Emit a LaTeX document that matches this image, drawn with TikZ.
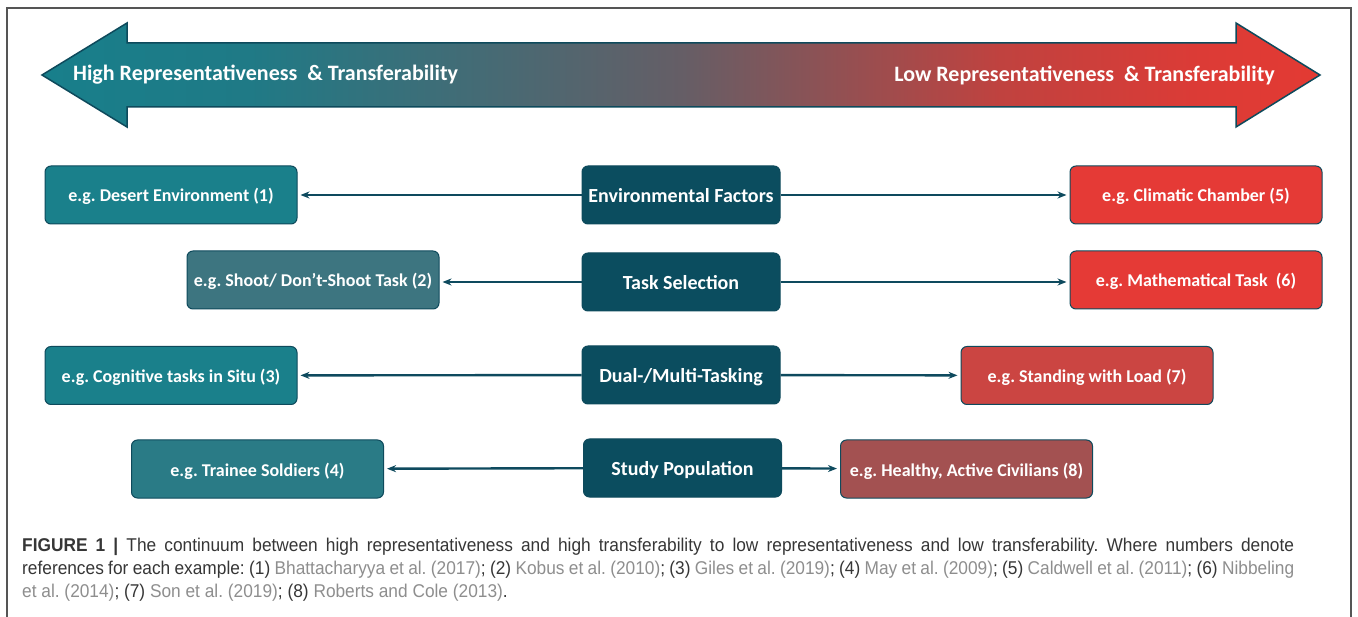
\documentclass[tikz,border=0pt]{standalone}
\usepackage{fontspec}
\setmainfont{Carlito}
\newfontfamily\capfont[FakeStretch=0.935]{Liberation Sans}
\usetikzlibrary{arrows.meta}
\frenchspacing
\definecolor{frameC}{HTML}{555555}
\definecolor{outC}{HTML}{0E4A5C}
\definecolor{connC}{HTML}{0E4A5E}
\definecolor{centerC}{HTML}{0B4D5F}
\definecolor{tealA}{HTML}{1A808B}
\definecolor{tealB}{HTML}{3D7580}
\definecolor{tealD}{HTML}{2A7B86}
\definecolor{redA}{HTML}{E53A36}
\definecolor{redC}{HTML}{CB4542}
\definecolor{redD}{HTML}{A35151}
\definecolor{capC}{HTML}{363636}
\definecolor{refC}{HTML}{8E8E8E}
\definecolor{g1}{HTML}{187F8B}
\definecolor{g2}{HTML}{1F7A86}
\definecolor{g3}{HTML}{655E66}
\definecolor{g4}{HTML}{C0423F}
\definecolor{g5}{HTML}{DC3B36}
\definecolor{g6}{HTML}{E33A33}
\pgfdeclarehorizontalshading{bigarrowshade}{100bp}{color(0bp)=(g1); color(25bp)=(g1); color(33bp)=(g2); color(50bp)=(g3); color(62.5bp)=(g4); color(70.3bp)=(g5); color(75bp)=(g6); color(100bp)=(g6)}
\tikzset{
  sidebox/.style={draw=outC, line width=1pt, rounded corners=6pt, minimum width=252pt, minimum height=58pt, inner sep=0pt, text=white, text height=18pt, text depth=4pt, font=\bfseries\fontsize{18}{21}\selectfont},
  centerbox/.style={draw=outC, line width=1pt, rounded corners=6pt, fill=centerC, minimum width=198pt, minimum height=58pt, inner sep=0pt, text=white, text height=20pt, text depth=4.5pt, font=\bfseries\fontsize{20}{23}\selectfont},
  conn/.style={draw=connC, line width=2.4pt, -{Stealth[length=9pt,width=7pt]}, shorten >=3pt},
  arrowtext/.style={text=white, font=\bfseries\fontsize{22}{25}\selectfont, inner sep=0pt},
  capline/.style={anchor=base west, inner sep=0pt, text=capC, font=\capfont\fontsize{18.5}{22}\selectfont}
}
\newcommand{\rf}[1]{\textcolor{refC}{#1}}
\begin{document}
\begin{tikzpicture}[x=1pt,y=-1pt]
\useasboundingbox (0,0) rectangle (1358,617);
\fill[white] (0,0) rectangle (1358,617);
% frame
\draw[frameC, line width=1.2pt] (7,630) -- (7,8) -- (1351,8) -- (1351,630);
% big double arrow
\path[shading=bigarrowshade, draw=outC, line width=1.5pt, line join=miter]
  (42,75) -- (127,23) -- (127,43) -- (1236,43) -- (1236,23) -- (1320,75)
  -- (1236,127) -- (1236,107) -- (127,107) -- (127,127) -- cycle;
\node[arrowtext, anchor=west] (hi) at (73,75) {High Representativeness\ \ \& Transferability};
\node[arrowtext, anchor=east] (lo) at (1275,75) {Low Representativeness\ \ \& Transferability};
% center boxes
\node[centerbox] (env) at (681,195) {Environmental Factors};
\node[centerbox] (task) at (681,282) {Task Selection};
\node[centerbox] (dual) at (681,375) {Dual-/Multi-Tasking};
\node[centerbox] (pop) at (682.5,468) {Study Population};
% left boxes
\node[sidebox, fill=tealA] (l1) at (171,195) {e.g. Desert Environment (1)};
\node[sidebox, fill=tealB] (l2) at (313,280) {e.g. Shoot/ Don’t-Shoot Task (2)};
\node[sidebox, fill=tealA] (l3) at (171,375.5) {e.g. Cognitive tasks in Situ (3)};
\node[sidebox, fill=tealD] (l4) at (257.5,469) {e.g. Trainee Soldiers (4)};
% right boxes
\node[sidebox, fill=redA] (r1) at (1196,195) {e.g. Climatic Chamber (5)};
\node[sidebox, fill=redA] (r2) at (1196,280) {e.g. Mathematical Task\ \ (6)};
\node[sidebox, fill=redC] (r3) at (1087,375.5) {e.g. Standing with Load (7)};
\node[sidebox, fill=redD] (r4) at (966.5,469) {e.g. Healthy, Active Civilians (8)};
% connectors
\draw[conn] (env) -- (l1);
\draw[conn] (env) -- (r1);
\draw[conn] (task.west) -- (l2.east |- task.west);
\draw[conn] (task.east) -- (r2.west |- task.east);
\draw[conn] (dual) -- (l3);
\draw[conn] (dual) -- (r3);
\draw[conn] (pop) -- (l4);
\draw[conn] (pop) -- (r4);
% caption
\node[capline] (c1) at (22,551.5) {\makebox[1272pt][s]{\textbf{FIGURE 1 |} The continuum between high representativeness and high transferability to low representativeness and low transferability. Where numbers denote}};
\node[capline] (c2) at (22,574.5) {\makebox[1272pt][s]{references for each example: (1) \rf{Bhattacharyya et al. (2017)}; (2) \rf{Kobus et al. (2010)}; (3) \rf{Giles et al. (2019)}; (4) \rf{May et al. (2009)}; (5) \rf{Caldwell et al. (2011)}; (6) \rf{Nibbeling}}};
\node[capline] (c3) at (22,597.5) {\rf{et al. (2014)}; (7) \rf{Son et al. (2019)}; (8) \rf{Roberts and Cole (2013)}.};
\end{tikzpicture}
\end{document}
